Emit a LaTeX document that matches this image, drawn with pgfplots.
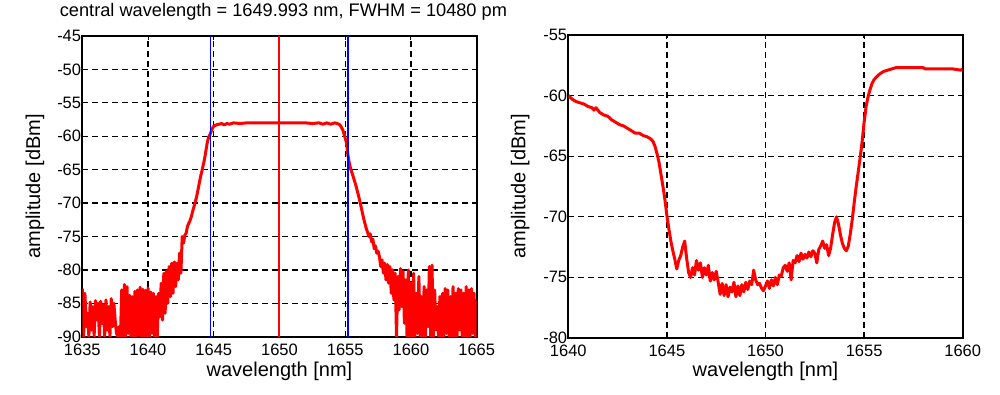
\documentclass[border=0pt]{standalone}
\usepackage{pgfplots}
\pgfplotsset{compat=1.18}
\usepackage{fontspec}
\setmainfont{Liberation Sans}

\begin{document}
\begin{tikzpicture}
\useasboundingbox (0pt,0pt) rectangle (1000pt,394pt);
\pgfplotsset{
  mystyle/.style={
    scale only axis, anchor=south west,
    axis line style={line width=1.8pt},
    tick align=inside, major tick length=4pt,
    tick style={black, line width=1pt},
    grid=major,
    major grid style={black, line width=1.25pt, dash pattern=on 6pt off 4pt},
    scaled ticks=false,
    /pgf/number format/assume math mode=true,
    /pgf/number format/1000 sep={},
    ticklabel style={font=\fontsize{16.5}{18}\selectfont},
    yticklabel style={inner sep=1pt},
    xticklabel style={inner sep=1pt, yshift=-6pt},
    label style={font=\fontsize{20}{22}\selectfont},
  }
}
% ---------------- left axis ----------------
\begin{axis}[mystyle,
  at={(82.3pt,57.3pt)}, width=394.4pt, height=300.7pt,
  xmin=1635, xmax=1665, ymin=-90, ymax=-45,
  xtick={1635,1640,...,1665}, ytick={-90,-85,...,-45},
  xlabel={wavelength [nm]}, ylabel={amplitude [dBm]},
  xlabel style={at={(axis description cs:0.5,-0.116)}, anchor=center},
  ylabel style={at={(axis description cs:-0.12,0.5)}, anchor=center},
  title={central wavelength = 1649.993 nm, FWHM = 10480 pm},
  title style={at={(axis description cs:0.51,1.06)}, anchor=center, font=\fontsize{18.2}{20}\selectfont},
]
\addplot[red, line width=3pt, line join=round] table {
1635.0 -82.8
1635.1 -90
1635.2 -83.5
1635.3 -88.5
1635.4 -86.5
1635.5 -90
1635.6 -84.8
1635.7 -89
1635.8 -85.5
1635.9 -90
1636.0 -84.6
1636.1 -87.5
1636.2 -85.0
1636.3 -90
1636.4 -84.7
1636.5 -88.0
1636.6 -85.2
1636.7 -90
1636.8 -84.5
1636.9 -89.0
1637.0 -85.5
1637.1 -90
1637.2 -84.3
1637.3 -88.5
1637.4 -85.0
1637.5 -87.5
1637.6 -89.5
1637.7 -90
1637.8 -88.5
1637.9 -90
1638.0 -83.0
1638.1 -90
1638.2 -82.2
1638.3 -90
1638.4 -82.5
1638.5 -89.5
1638.6 -83.8
1638.7 -90
1638.8 -84.0
1638.9 -90
1639.0 -83.2
1639.1 -90
1639.2 -83.0
1639.3 -89.8
1639.4 -82.6
1639.5 -90
1639.6 -82.9
1639.7 -90
1639.8 -83.1
1639.9 -90
1640.0 -82.7
1640.1 -90
1640.2 -83.3
1640.3 -89.5
1640.4 -83.5
1640.5 -90
1640.6 -84.0
1640.7 -90
1640.8 -83.5
1640.9 -87.0
1641.0 -82.0
1641.1 -87.5
1641.2 -80.5
1641.3 -86.5
1641.4 -80.2
1641.5 -85.0
1641.6 -79.5
1641.7 -84.0
1641.8 -79.0
1641.9 -83.5
1642.0 -78.8
1642.1 -82.5
1642.2 -79.0
1642.3 -81.5
1642.4 -77.5
1642.5 -80.5
1642.6 -75.0
1642.7 -76.0
1642.8 -74.8
1642.9 -74.5
1643.0 -73.5
1643.1 -73.0
1643.2 -72.6
1643.3 -72.0
1643.4 -71.2
1643.5 -70.5
1643.6 -69.8
1643.7 -69.0
1643.8 -68.0
1643.9 -67.0
1644.0 -66.0
1644.1 -65.2
1644.2 -64.3
1644.3 -63.4
1644.4 -62.2
1644.5 -61.0
1644.6 -60.2
1644.7 -59.8
1644.8 -59.3
1644.9 -58.8
1645.0 -58.5
1645.2 -58.3
1645.4 -58.2
1645.6 -58.1
1645.8 -58.3
1646.0 -58.1
1646.2 -58.2
1646.5 -58.0
1647.0 -58.1
1647.5 -58.0
1648.0 -58.0
1649.0 -58.0
1650.0 -58.0
1651.0 -58.0
1652.0 -58.0
1652.5 -58.1
1653.0 -58.0
1653.3 -58.2
1653.6 -58.0
1653.9 -58.2
1654.2 -58.0
1654.4 -58.1
1654.6 -58.3
1654.8 -59.0
1654.9 -59.6
1655.0 -60.3
1655.1 -61.0
1655.2 -62.8
1655.3 -63.9
1655.4 -64.8
1655.6 -66.0
1655.8 -67.3
1656.0 -68.8
1656.2 -70.5
1656.4 -72.3
1656.6 -73.8
1656.8 -75.0
1656.9 -74.6
1657.0 -75.8
1657.1 -75.4
1657.2 -76.8
1657.3 -76.4
1657.4 -77.5
1657.5 -77.2
1657.6 -78.0
1657.7 -79.5
1657.8 -78.5
1657.9 -80.5
1658.0 -79.0
1658.1 -81.5
1658.2 -79.2
1658.3 -82.0
1658.4 -79.5
1658.5 -83.5
1658.6 -80.0
1658.7 -84.5
1658.8 -80.5
1658.9 -90.0
1659.0 -81.0
1659.1 -86.0
1659.2 -79.8
1659.3 -85.5
1659.4 -80.2
1659.5 -88.0
1659.6 -81.5
1659.7 -90
1659.8 -80.0
1659.9 -90
1660.0 -82.0
1660.1 -90
1660.2 -80.5
1660.3 -90
1660.4 -83.5
1660.5 -89.5
1660.6 -81.0
1660.7 -90
1660.8 -84.0
1660.9 -90
1661.0 -82.5
1661.1 -90
1661.2 -83.0
1661.3 -88.5
1661.4 -79.5
1661.5 -90
1661.6 -79.3
1661.7 -90
1661.8 -83.0
1661.9 -89
1662.0 -85.5
1662.1 -90
1662.2 -84.0
1662.3 -90
1662.4 -83.5
1662.5 -90
1662.6 -82.8
1662.7 -89.5
1662.8 -83.0
1662.9 -90
1663.0 -84.0
1663.1 -90
1663.2 -82.5
1663.3 -90
1663.4 -83.5
1663.5 -90
1663.6 -82.8
1663.7 -89
1663.8 -83.0
1663.9 -90
1664.0 -83.5
1664.1 -90
1664.2 -82.5
1664.3 -90
1664.4 -83.0
1664.5 -90
1664.6 -82.8
1664.7 -89.5
1664.8 -83.5
1664.9 -90
1665.0 -84.5
};
\addplot[red, line width=2pt] coordinates {(1649.993,-90) (1649.993,-45)};
\addplot[blue, line width=1.8pt] coordinates {(1644.753,-90) (1644.753,-45)};
\addplot[blue, line width=1.8pt] coordinates {(1655.233,-90) (1655.233,-45)};
\end{axis}
% ---------------- right axis ----------------
\begin{axis}[mystyle,
  at={(568.3pt,56pt)}, width=394.4pt, height=303pt,
  xmin=1640, xmax=1660, ymin=-80, ymax=-55,
  xtick={1640,1645,...,1660}, ytick={-80,-75,...,-55},
  xlabel={wavelength [nm]}, ylabel={amplitude [dBm]},
  xlabel style={at={(axis description cs:0.5,-0.11)}, anchor=center},
  ylabel style={at={(axis description cs:-0.122,0.5)}, anchor=center},
]
\addplot[red, line width=3pt, line join=round] table {
1640.0 -60.0
1640.2 -60.3
1640.4 -60.5
1640.6 -60.6
1640.8 -60.7
1641.0 -60.9
1641.2 -61.0
1641.3 -61.2
1641.4 -61.0
1641.6 -61.4
1641.8 -61.6
1642.0 -61.7
1642.2 -62.0
1642.4 -62.2
1642.6 -62.4
1642.8 -62.5
1643.0 -62.7
1643.2 -62.9
1643.4 -63.1
1643.6 -63.1
1643.8 -63.3
1644.0 -63.4
1644.2 -63.6
1644.3 -63.8
1644.4 -64.2
1644.5 -64.8
1644.6 -65.5
1644.7 -66.5
1644.8 -67.5
1644.9 -68.6
1645.0 -69.9
1645.1 -71.0
1645.2 -72.0
1645.3 -72.8
1645.4 -73.5
1645.5 -74.3
1645.6 -73.6
1645.7 -73.2
1645.8 -72.5
1645.9 -72.0
1646.0 -73.4
1646.1 -74.6
1646.2 -75.0
1646.3 -74.2
1646.4 -74.8
1646.5 -73.6
1646.6 -74.4
1646.7 -73.8
1646.8 -75.0
1646.9 -74.2
1647.0 -74.8
1647.1 -74.0
1647.2 -75.3
1647.3 -74.6
1647.4 -75.2
1647.5 -74.5
1647.6 -75.4
1647.7 -76.4
1647.8 -75.5
1647.9 -76.5
1648.0 -75.6
1648.1 -76.6
1648.2 -75.8
1648.3 -76.2
1648.4 -75.4
1648.5 -76.6
1648.6 -75.7
1648.7 -76.5
1648.8 -75.6
1648.9 -76.2
1649.0 -75.4
1649.1 -76.0
1649.2 -75.3
1649.3 -75.6
1649.4 -74.4
1649.5 -75.2
1649.6 -75.6
1649.7 -75.5
1649.8 -75.9
1649.9 -76.1
1650.0 -75.7
1650.1 -75.3
1650.2 -75.9
1650.3 -75.2
1650.4 -75.7
1650.5 -75.0
1650.6 -75.6
1650.7 -74.8
1650.8 -74.9
1650.9 -74.2
1651.0 -74.0
1651.1 -74.5
1651.2 -73.8
1651.3 -75.2
1651.4 -73.6
1651.5 -73.8
1651.6 -73.2
1651.7 -73.7
1651.8 -73.0
1651.9 -73.5
1652.0 -73.1
1652.1 -73.4
1652.2 -72.9
1652.3 -73.3
1652.4 -72.8
1652.5 -73.0
1652.6 -73.8
1652.7 -72.7
1652.8 -72.4
1652.9 -72.0
1653.0 -72.6
1653.1 -72.3
1653.2 -73.2
1653.3 -72.6
1653.4 -71.5
1653.5 -70.5
1653.6 -70.0
1653.7 -70.6
1653.8 -71.5
1653.9 -72.2
1654.0 -72.6
1654.1 -72.8
1654.2 -72.4
1654.3 -71.4
1654.4 -70.2
1654.5 -68.8
1654.6 -67.5
1654.7 -66.3
1654.8 -65.1
1654.9 -63.8
1655.0 -62.2
1655.1 -60.9
1655.2 -60.1
1655.3 -59.5
1655.4 -59.0
1655.5 -58.7
1655.6 -58.5
1655.8 -58.2
1656.0 -58.0
1656.2 -57.9
1656.4 -57.8
1656.6 -57.7
1657.0 -57.7
1657.5 -57.7
1658.0 -57.7
1658.1 -57.8
1658.5 -57.8
1659.0 -57.8
1659.5 -57.8
1659.9 -57.9
1660.0 -57.8
};
\end{axis}
\end{tikzpicture}
\end{document}
